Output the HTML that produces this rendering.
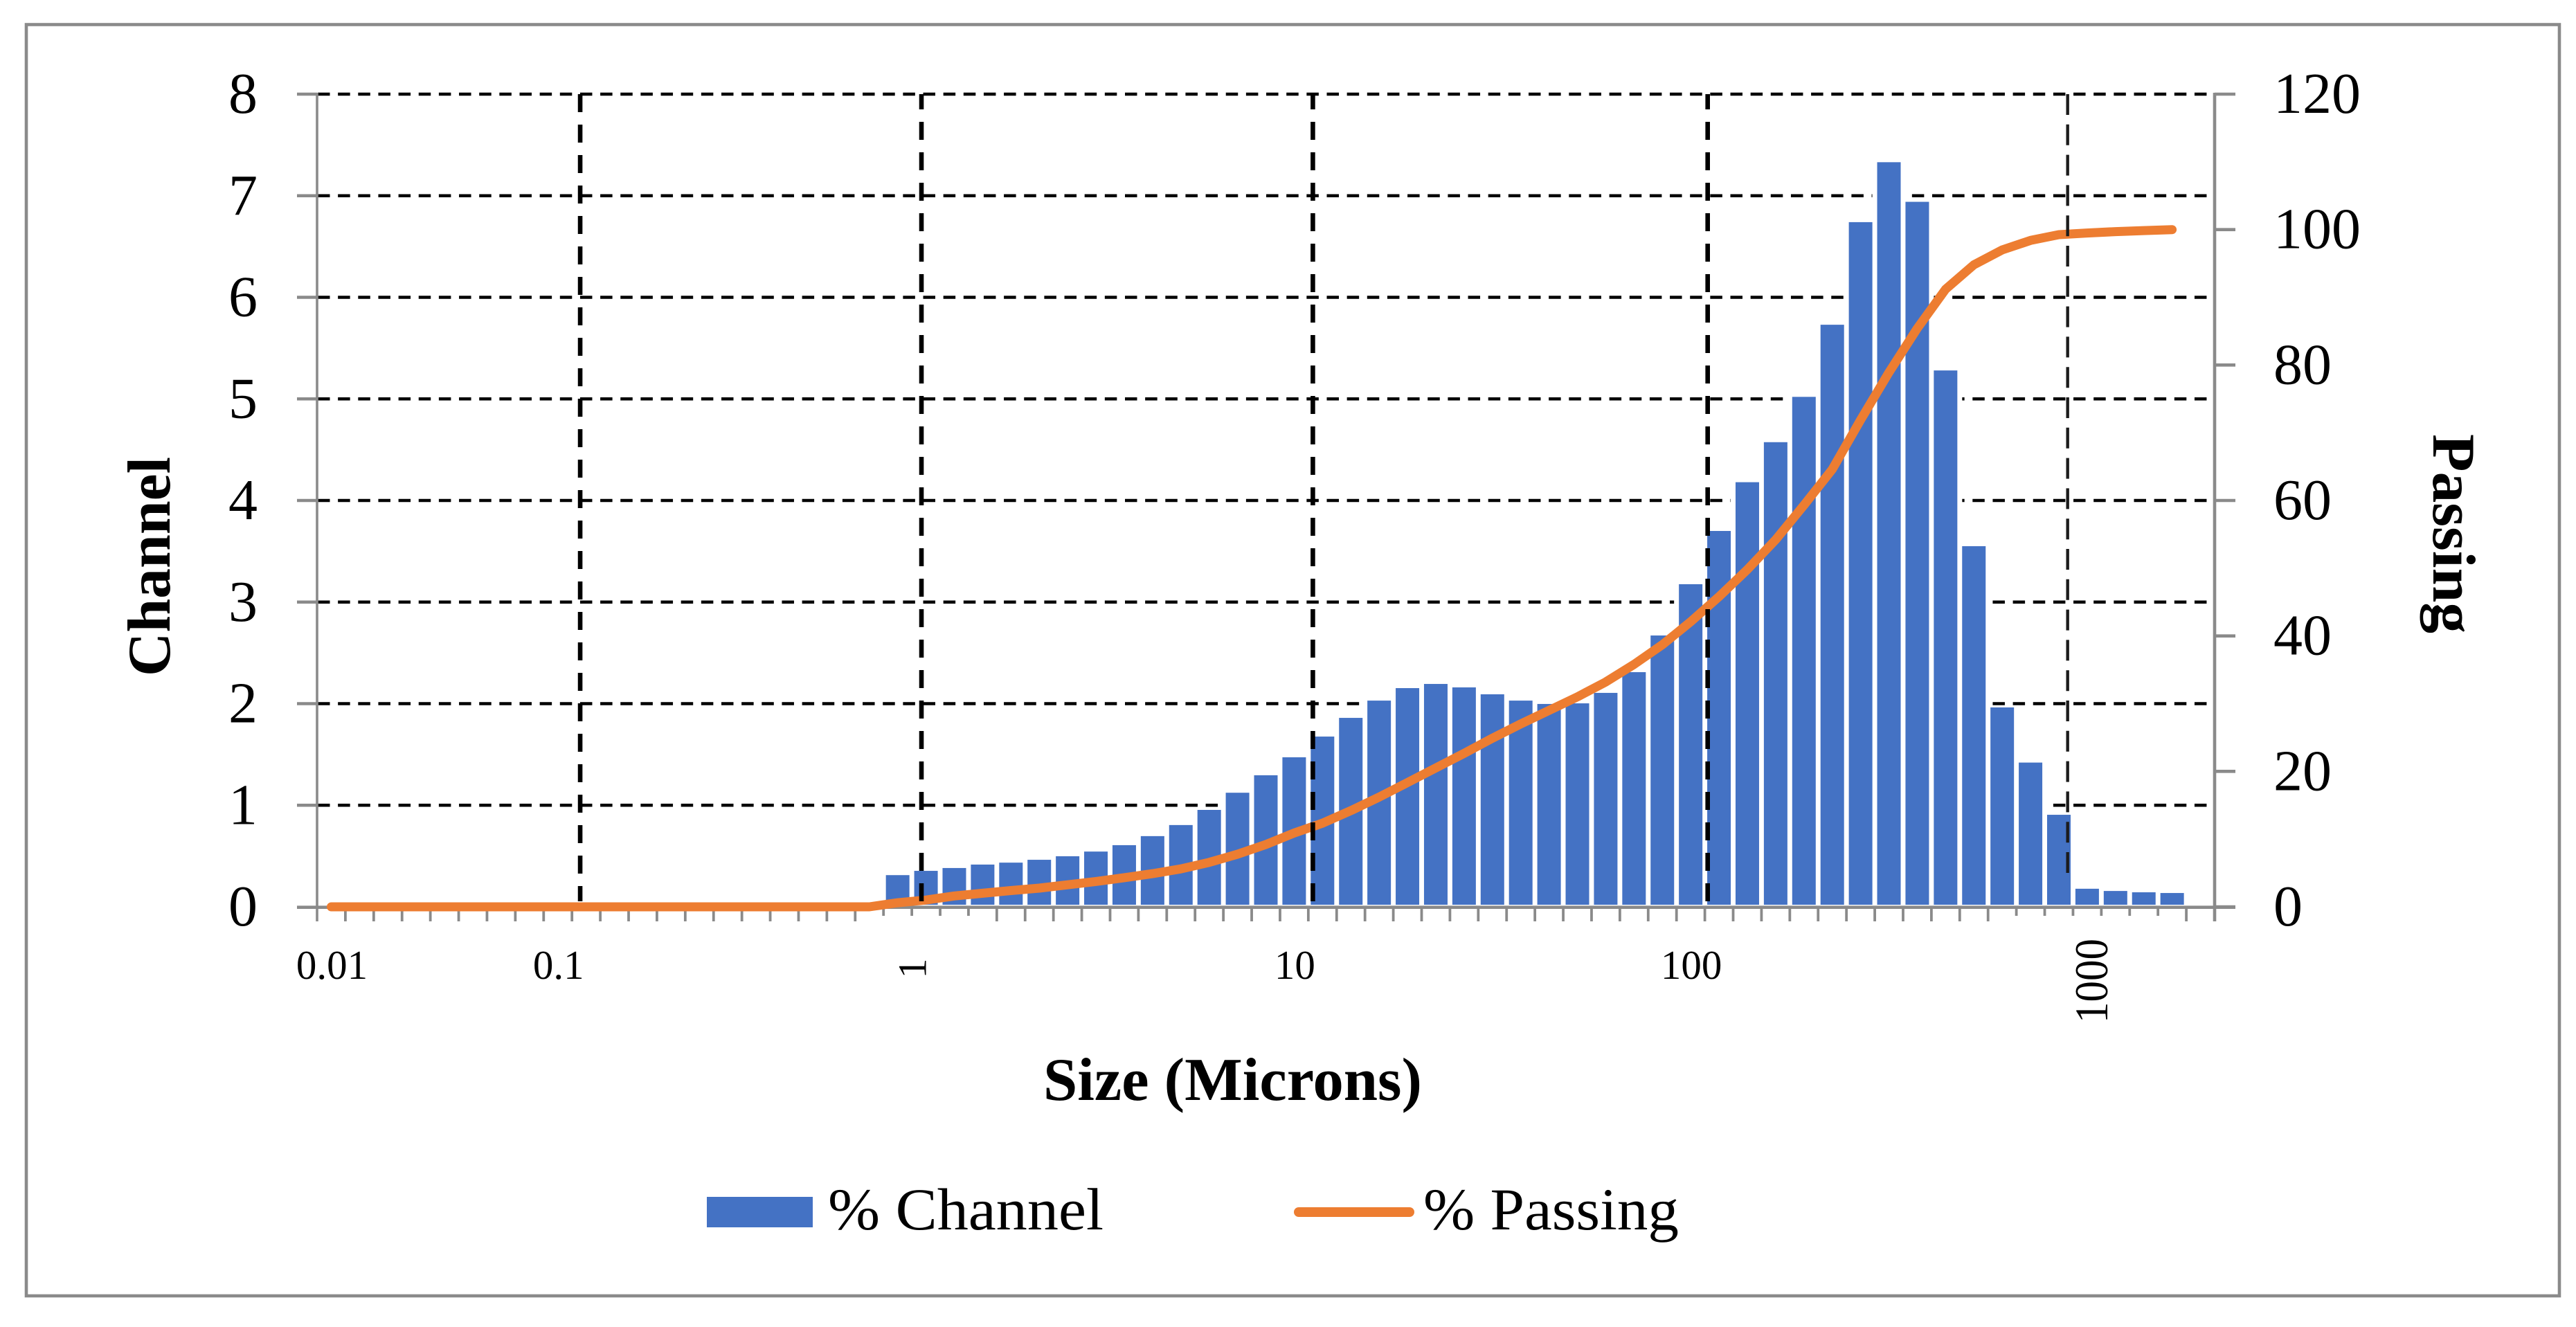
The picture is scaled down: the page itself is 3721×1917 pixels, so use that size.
<!DOCTYPE html>
<html lang="en">
<head>
<meta charset="utf-8">
<title>Particle size distribution</title>
<style>
html,body{margin:0;padding:0;background:#fff;}
svg{display:block;}
text{font-family:"Liberation Serif",serif;fill:#000;}
</style>
</head>
<body>
<svg id="chart" xmlns="http://www.w3.org/2000/svg" width="3721" height="1917" viewBox="0 0 3721 1917">
  <rect x="0" y="0" width="3721" height="1917" fill="#fff"/>
  <rect x="38" y="35.5" width="3659" height="1836.5" fill="none" stroke="#8a8a8a" stroke-width="4.6"/>
  <g id="h-grid"></g>
  <g id="bars"></g>
  <g id="axes"></g>
  <g id="line"></g>
  <g id="v-grid"></g>
  <g id="labels"></g>
  <text x="1507" y="1589" font-size="88" font-weight="bold" textLength="547" lengthAdjust="spacingAndGlyphs">Size (Microns)</text>
  <text transform="translate(245 977) rotate(-90)" font-size="88" font-weight="bold" textLength="317" lengthAdjust="spacingAndGlyphs">Channel</text>
  <text transform="translate(3515 627) rotate(90)" font-size="88" font-weight="bold" textLength="288" lengthAdjust="spacingAndGlyphs">Passing</text>
  <g>
    <rect x="1021" y="1729" width="153" height="44" fill="#4472C4"/>
    <text x="1196" y="1776" font-size="86" textLength="398" lengthAdjust="spacingAndGlyphs">% Channel</text>
    <line x1="1876" y1="1751" x2="2036" y2="1751" stroke="#ED7D31" stroke-width="14" stroke-linecap="round"/>
    <text x="2056" y="1776" font-size="86" textLength="369" lengthAdjust="spacingAndGlyphs">% Passing</text>
  </g>
</svg>
<script>
const sizeLabels = [
  '0.01','','','','','','','','0.1','','','','','','','','','','','',
  '','1','','','','','','','','','','','','','10','','','','','',
  '','','','','','','','','100','','','','','','','','','','','',
  '','','1000','','','','',''
];
const channelValues = [
  0,0,0,0,0,0,0,0,0,0,0,0,0,0,0,0,0,0,0,0,
  0.312,0.354,0.382,0.416,0.435,0.463,0.498,0.544,0.607,0.696,
  0.805,0.954,1.123,1.295,1.472,1.676,1.860,2.030,2.153,2.194,
  2.160,2.092,2.030,1.997,2.003,2.106,2.310,2.671,3.176,3.700,
  4.180,4.574,5.020,5.730,6.740,7.330,6.940,5.280,3.550,1.963,
  1.420,0.906,0.178,0.156,0.143,0.136
];
const passingValues = [
  0,0,0,0,0,0,0,0,0,0,0,0,0,0,0,0,0,0,0,0,
  0.6,1.0,1.6,2.0,2.4,2.76,3.25,3.74,4.3,4.9,
  5.6,6.56,7.77,9.2,10.9,12.35,14.2,16.2,18.35,20.5,
  22.66,24.9,27.0,29.0,31.0,33.2,35.8,38.7,42.1,45.8,
  49.8,54.2,59.3,64.6,71.9,78.9,85.4,91.2,94.8,97.0,
  98.4,99.25,99.5,99.7,99.85,100
];
const leftTickLabels = ['0','1','2','3','4','5','6','7','8'];
const rightTickLabels = ['0','20','40','60','80','100','120'];
const verticalGridCategories = [9.29, 21.34, 35.16, 49.1, 61.81];
const shortTickCategories = [20,21,22,23,60,61,62,63,64,65];

const SVG_NS = 'http://www.w3.org/2000/svg';
const plotLeft = 458, plotRight = 3199, plotBottom = 1310, plotTop = 136;
const categoryCount = 67;
const step = (plotRight - plotLeft) / categoryCount;
const xEdge = i => plotLeft + i * step;
const xCenter = i => plotLeft + (i + 0.5) * step;
const yChannel = v => plotBottom - v * (plotBottom - plotTop) / 8;
const yPassing = v => plotBottom - v * (plotBottom - plotTop) / 120;

function mk(tag, attrs, parentId, txt) {
  const el = document.createElementNS(SVG_NS, tag);
  for (const k in attrs) el.setAttribute(k, attrs[k]);
  if (txt !== undefined) el.textContent = txt;
  document.getElementById(parentId).appendChild(el);
  return el;
}

/* horizontal gridlines */
leftTickLabels.forEach(function (label, i) {
  const el = mk('line', {x1: plotLeft + 1, x2: 3190, y1: yChannel(+label), y2: yChannel(+label), stroke: '#000', 'stroke-width': 4.6, 'stroke-dasharray': '17.5 11.65'}, 'h-grid');
  
  
  if (i === 0) el.setAttribute('visibility', 'hidden');
});

/* bars, each with a white halo that interrupts gridlines */
channelValues.forEach(function (v, i) {
  if (v <= 0) return;
  const halo = mk('rect', {x: xCenter(i) - 24, y: yChannel(v) - 3, width: 48, height: 1307 - yChannel(v) + 3, fill: '#fff'}, 'bars');
  
  
});
channelValues.forEach(function (v, i) {
  if (v <= 0) return;
  const bar = mk('rect', {x: xCenter(i) - 17, y: yChannel(v), width: 34, height: 1307 - yChannel(v), fill: '#4472C4'}, 'bars');
  
  
});

/* axes */
const leftAxis = mk('line', {x1: plotLeft, x2: plotLeft, y1: plotTop - 2, y2: 1331, stroke: '#8a8a8a', 'stroke-width': 3.6}, 'axes');


const rightAxis = mk('line', {x1: plotRight, x2: plotRight, y1: plotTop - 2, y2: 1331, stroke: '#8a8a8a', 'stroke-width': 4.6}, 'axes');


const xAxis = mk('line', {x1: 429, x2: 3229, y1: plotBottom + 0.7, y2: plotBottom + 0.7, stroke: '#8a8a8a', 'stroke-width': 4.6}, 'axes');



for (let i = 1; i < categoryCount; i++) {
  const bottom = shortTickCategories.indexOf(i) >= 0 ? 1323 : 1331;
  const tick = mk('line', {x1: xEdge(i), x2: xEdge(i), y1: plotBottom, y2: bottom, stroke: '#8a8a8a', 'stroke-width': 3.8}, 'axes');
  
  
}
leftTickLabels.forEach(function (label) {
  const y = yChannel(+label);
  if (+label !== 0) {
    const tick = mk('line', {x1: 429, x2: plotLeft, y1: y, y2: y, stroke: '#8a8a8a', 'stroke-width': 4.6}, 'axes');
    
    
  }
  const t = mk('text', {x: 372, y: y + 27, 'font-size': 84, 'text-anchor': 'end'}, 'labels', label);
  
  
});
rightTickLabels.forEach(function (label) {
  const y = yPassing(+label);
  const tick = mk('line', {x1: plotRight, x2: 3229, y1: y, y2: y, stroke: '#8a8a8a', 'stroke-width': 4.6}, 'axes');
  
  
  const t = mk('text', {x: 3284, y: y + 27, 'font-size': 84}, 'labels', label);
  
  
});

/* x labels */
sizeLabels.forEach(function (label, i) {
  if (!label) return;
  let t;
  if (label === '1') {
    t = mk('text', {transform: 'translate(' + xCenter(i) + ' 1399) rotate(-90)', 'font-size': 58, 'text-anchor': 'middle'}, 'labels', label);
  } else if (label === '1000') {
    t = mk('text', {transform: 'translate(' + (xCenter(i) + 29) + ' 1478) rotate(-90)', 'font-size': 68, textLength: 122, lengthAdjust: 'spacingAndGlyphs'}, 'labels', label);
  } else {
    t = mk('text', {x: xCenter(i) + 1, y: 1414, 'font-size': 59, 'text-anchor': 'middle'}, 'labels', label);
  }
  
  
});

/* passing line */
const pts = passingValues.map(function (v, i) { return xCenter(i).toFixed(1) + ',' + yPassing(v).toFixed(1); }).join(' ');
const curve = mk('polyline', {points: pts, fill: 'none', stroke: '#ED7D31', 'stroke-width': 13, 'stroke-linecap': 'round', 'stroke-linejoin': 'round'}, 'line');



/* vertical gridlines, drawn over bars and the line */
verticalGridCategories.forEach(function (c, i) {
  const x = xEdge(c);
  const last = i === verticalGridCategories.length - 1;
  const attrs = last
    ? {x1: x, x2: x, y1: plotTop, y2: 1273, stroke: '#1c1c1c', 'stroke-width': 4.4, 'stroke-dasharray': '30 13.8'}
    : {x1: x, x2: x, y1: plotTop, y2: 1302, stroke: '#000', 'stroke-width': 6.6, 'stroke-dasharray': '26 18', 'stroke-dashoffset': i === 0 ? 0 : 4};
  const g = mk('line', attrs, 'v-grid');
  
  
});
</script>
</body>
</html>
